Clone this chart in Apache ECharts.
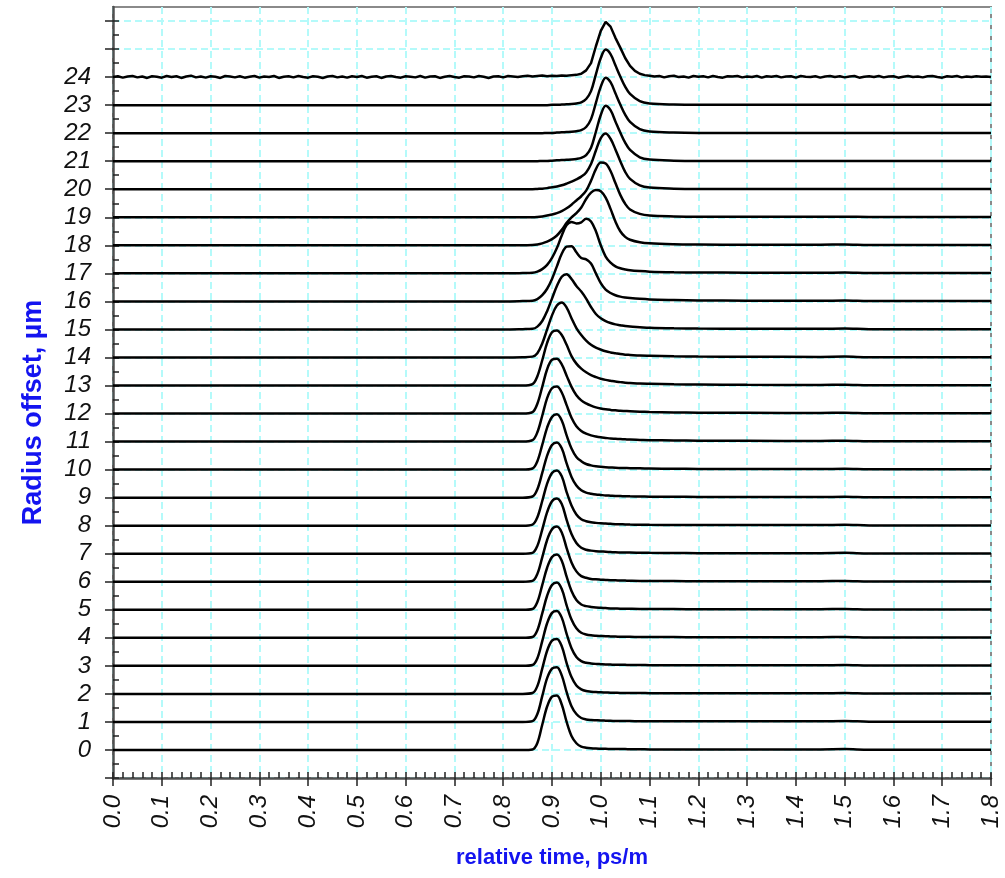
<!DOCTYPE html>
<html>
<head>
<meta charset="utf-8">
<script src="https://cdn.jsdelivr.net/npm/echarts@6/dist/echarts.min.js"></script>
<style>
  html, body { margin: 0; padding: 0; background: #fff; }
  #dmdChart { width: 1005px; height: 878px; }
</style>
</head>
<body>
<div id="dmdChart"></div>
<script>
// relative time (ps/m) sample points shared by traces 0..23
const times = [0, 0.80, 0.84, 0.86, 0.87, 0.88, 0.89, 0.90, 0.91, 0.92, 0.93, 0.94, 0.95, 0.96, 0.97,
  0.98, 0.99, 1.00, 1.01, 1.02, 1.03, 1.04, 1.05, 1.06, 1.08, 1.10, 1.15, 1.20, 1.30, 1.45, 1.50, 1.55, 1.80];

// pulse height above each trace's baseline (baseline = radius offset)
const pulses = [
  [0,0,0, 0.02,0.25,0.9,1.55,1.9,1.94,1.62,1.0,0.5,0.24,0.12,0.08,0.06,0.05,0.045,0.04,0.035,0.03,0.03,0.03,0.025,0.025,0.02, 0.02,0.02,0.02,0.02,0.03,0.01,0.01],
  [0,0,0, 0.03,0.28,0.92,1.56,1.9,1.95,1.66,1.06,0.56,0.28,0.14,0.09,0.07,0.06,0.05,0.045,0.04,0.035,0.03,0.03,0.03,0.025,0.025, 0.02,0.02,0.02,0.02,0.03,0.01,0.01],
  [0,0,0, 0.03,0.28,0.9,1.54,1.9,1.96,1.7,1.1,0.6,0.3,0.16,0.1,0.08,0.065,0.055,0.05,0.045,0.04,0.035,0.035,0.03,0.03,0.025, 0.02,0.02,0.02,0.02,0.03,0.01,0.01],
  [0,0,0, 0.03,0.27,0.88,1.52,1.89,1.96,1.72,1.14,0.63,0.32,0.17,0.11,0.085,0.07,0.06,0.05,0.045,0.04,0.04,0.035,0.03,0.03,0.025, 0.02,0.02,0.02,0.02,0.03,0.01,0.01],
  [0,0,0, 0.03,0.27,0.87,1.5,1.88,1.97,1.74,1.16,0.65,0.34,0.18,0.12,0.09,0.075,0.065,0.055,0.05,0.045,0.04,0.035,0.035,0.03,0.03, 0.025,0.02,0.02,0.02,0.03,0.01,0.01],
  [0,0,0, 0.03,0.28,0.88,1.5,1.88,1.97,1.75,1.18,0.67,0.35,0.19,0.13,0.1,0.08,0.07,0.06,0.05,0.045,0.04,0.04,0.035,0.03,0.03, 0.025,0.02,0.02,0.02,0.03,0.01,0.01],
  [0,0,0, 0.03,0.28,0.87,1.49,1.87,1.97,1.76,1.2,0.69,0.37,0.2,0.14,0.1,0.085,0.075,0.065,0.055,0.05,0.045,0.04,0.035,0.03,0.03, 0.025,0.02,0.02,0.02,0.03,0.01,0.01],
  [0,0,0, 0.03,0.28,0.86,1.48,1.87,1.97,1.77,1.21,0.7,0.38,0.21,0.14,0.11,0.09,0.08,0.07,0.06,0.05,0.045,0.04,0.04,0.035,0.03, 0.025,0.02,0.02,0.02,0.03,0.01,0.01],
  [0,0,0, 0.04,0.3,0.88,1.5,1.88,1.97,1.76,1.2,0.72,0.4,0.23,0.16,0.12,0.1,0.085,0.075,0.065,0.055,0.05,0.045,0.04,0.035,0.03, 0.025,0.02,0.02,0.02,0.03,0.01,0.01],
  [0,0,0, 0.04,0.3,0.88,1.5,1.88,1.97,1.76,1.22,0.74,0.43,0.26,0.18,0.14,0.11,0.095,0.08,0.07,0.06,0.055,0.05,0.045,0.04,0.035, 0.03,0.025,0.02,0.02,0.03,0.01,0.01],
  [0,0,0, 0.04,0.3,0.88,1.5,1.88,1.97,1.75,1.22,0.75,0.45,0.3,0.2,0.15,0.12,0.1,0.085,0.075,0.065,0.06,0.055,0.05,0.045,0.04, 0.03,0.025,0.02,0.02,0.03,0.01,0.01],
  [0,0,0, 0.05,0.33,0.92,1.55,1.9,1.96,1.75,1.3,0.85,0.55,0.38,0.28,0.22,0.18,0.15,0.13,0.11,0.1,0.09,0.08,0.07,0.06,0.05, 0.04,0.03,0.025,0.02,0.03,0.01,0.01],
  [0,0,0, 0.05,0.35,0.95,1.58,1.92,1.95,1.75,1.35,0.95,0.65,0.47,0.36,0.28,0.22,0.18,0.15,0.13,0.115,0.1,0.09,0.08,0.065,0.055, 0.04,0.03,0.025,0.02,0.03,0.01,0.01],
  [0,0,0, 0.05,0.33,0.9,1.52,1.9,1.96,1.8,1.45,1.05,0.78,0.6,0.47,0.37,0.3,0.24,0.2,0.17,0.14,0.12,0.1,0.09,0.07,0.06, 0.04,0.035,0.025,0.02,0.03,0.01,0.01],
  [0,0,0.01, 0.03,0.15,0.5,1.0,1.5,1.85,1.96,1.78,1.4,1.05,0.8,0.6,0.45,0.35,0.28,0.22,0.18,0.15,0.12,0.1,0.09,0.07,0.06, 0.04,0.03,0.025,0.02,0.03,0.01,0.01],
  [0,0,0.01, 0.02,0.1,0.3,0.65,1.1,1.55,1.88,1.97,1.8,1.55,1.35,1.1,0.8,0.55,0.4,0.3,0.23,0.18,0.15,0.12,0.1,0.08,0.06, 0.04,0.03,0.025,0.02,0.03,0.01,0.01],
  [0,0,0.01, 0.02,0.08,0.22,0.45,0.8,1.25,1.7,1.95,1.97,1.75,1.55,1.5,1.35,1.0,0.65,0.42,0.3,0.22,0.17,0.14,0.12,0.09,0.07, 0.05,0.035,0.025,0.02,0.03,0.01,0.01],
  [0,0,0.01, 0.02,0.06,0.15,0.3,0.55,0.9,1.35,1.72,1.83,1.78,1.82,1.95,1.85,1.5,1.0,0.6,0.38,0.25,0.18,0.14,0.11,0.08,0.06, 0.04,0.03,0.025,0.02,0.03,0.01,0.01],
  [0,0,0, 0.01,0.03,0.07,0.13,0.22,0.35,0.55,0.8,1.0,1.15,1.35,1.65,1.88,1.97,1.93,1.7,1.3,0.85,0.5,0.3,0.2,0.11,0.07, 0.04,0.03,0.02,0.02,0.03,0.01,0.01],
  [0,0,0, 0,0.01,0.03,0.06,0.1,0.15,0.22,0.32,0.45,0.6,0.75,0.95,1.3,1.72,1.95,1.92,1.65,1.22,0.8,0.48,0.28,0.12,0.06, 0.03,0.02,0.02,0.02,0.02,0.01,0.01],
  [0,0,0, 0,0.01,0.02,0.04,0.07,0.1,0.14,0.2,0.27,0.35,0.45,0.6,0.9,1.38,1.82,1.99,1.8,1.42,1.0,0.62,0.37,0.14,0.06, 0.02,0.01,0.01,0.01,0.01,0.01,0.01],
  [0,0,0, 0,0,0.01,0.01,0.02,0.03,0.04,0.05,0.06,0.08,0.12,0.22,0.48,1.05,1.65,1.98,1.82,1.42,1.02,0.66,0.4,0.14,0.06, 0.02,0.01,0.01,0.01,0.01,0.01,0.01],
  [0,0,0, 0,0,0,0.01,0.01,0.02,0.03,0.04,0.05,0.07,0.11,0.22,0.5,1.08,1.66,1.98,1.82,1.42,1.02,0.66,0.4,0.14,0.06, 0.02,0.01,0.01,0.01,0.01,0.01,0.01],
  [0,0,0, 0,0,0,0,0.01,0.01,0.02,0.03,0.04,0.06,0.1,0.22,0.5,1.1,1.68,1.98,1.82,1.42,1.02,0.66,0.4,0.14,0.06, 0.02,0.01,0.01,0.01,0.01,0.01,0.01]
];

// outermost trace (24 µm) is noisy, so it has its own dense sampling
const noisyTimes = [
  0.00, 0.01, 0.02, 0.03, 0.04, 0.05, 0.06, 0.07, 0.08, 0.09, 0.10, 0.11, 0.12, 0.13, 0.14, 0.15, 0.16, 0.17, 0.18, 0.19,
  0.20, 0.21, 0.22, 0.23, 0.24, 0.25, 0.26, 0.27, 0.28, 0.29, 0.30, 0.31, 0.32, 0.33, 0.34, 0.35, 0.36, 0.37, 0.38, 0.39,
  0.40, 0.41, 0.42, 0.43, 0.44, 0.45, 0.46, 0.47, 0.48, 0.49, 0.50, 0.51, 0.52, 0.53, 0.54, 0.55, 0.56, 0.57, 0.58, 0.59,
  0.60, 0.61, 0.62, 0.63, 0.64, 0.65, 0.66, 0.67, 0.68, 0.69, 0.70, 0.71, 0.72, 0.73, 0.74, 0.75, 0.76, 0.77, 0.78, 0.79,
  0.80, 0.81, 0.82, 0.83, 0.84, 0.85, 0.86, 0.87, 0.88, 0.89, 0.90, 0.91, 0.92, 0.93, 0.94,
  0.95, 0.96, 0.97, 0.98, 0.99, 1.00, 1.01, 1.02, 1.03, 1.04, 1.05, 1.06, 1.07, 1.08, 1.09,
  1.10, 1.11, 1.12, 1.13, 1.14, 1.15, 1.16, 1.17, 1.18, 1.19, 1.20, 1.21, 1.22, 1.23, 1.24, 1.25, 1.26, 1.27, 1.28, 1.29,
  1.30, 1.31, 1.32, 1.33, 1.34, 1.35, 1.36, 1.37, 1.38, 1.39, 1.40, 1.41, 1.42, 1.43, 1.44, 1.45, 1.46, 1.47, 1.48, 1.49,
  1.50, 1.51, 1.52, 1.53, 1.54, 1.55, 1.56, 1.57, 1.58, 1.59, 1.60, 1.61, 1.62, 1.63, 1.64, 1.65, 1.66, 1.67, 1.68, 1.69,
  1.70, 1.71, 1.72, 1.73, 1.74, 1.75, 1.76, 1.77, 1.78, 1.79, 1.80];
const noisyPulse = [
  0.00, 0.03, -0.02, 0.02, 0.04, -0.01, 0.02, -0.03, 0.03, 0.01, -0.02, 0.04, 0.00, 0.03, -0.03, 0.02, 0.05, -0.01, 0.02, -0.02,
  0.03, 0.01, -0.03, 0.04, 0.02, -0.01, 0.03, -0.02, 0.01, 0.04, -0.02, 0.02, 0.00, 0.04, -0.03, 0.01, 0.03, -0.01, 0.04, 0.00,
  -0.02, 0.03, 0.01, -0.03, 0.02, 0.04, -0.01, 0.02, -0.02, 0.03, 0.00, 0.04, -0.02, 0.01, 0.03, -0.03, 0.02, 0.04, 0.00, -0.02,
  0.03, 0.01, -0.01, 0.04, -0.02, 0.02, 0.03, -0.03, 0.01, 0.04, 0.00, -0.02, 0.03, 0.02, -0.01, 0.04, 0.01, -0.03, 0.02, 0.03,
  -0.01, 0.04, 0.02, 0.00, 0.03, 0.05, 0.02, 0.04, 0.06, 0.03, 0.05, 0.04, 0.06, 0.05, 0.07,
  0.08, 0.12, 0.24, 0.5, 1.1, 1.65, 1.97, 1.8, 1.4, 1.05, 0.68, 0.4, 0.22, 0.12, 0.07,
  0.05, 0.02, 0.04, -0.01, 0.03, 0.05, 0.00, 0.02, -0.02, 0.04, 0.01, 0.03, -0.01, 0.04, 0.00, -0.02, 0.03, 0.02, 0.04, -0.01,
  0.02, 0.00, 0.04, -0.02, 0.03, 0.01, 0.04, -0.01, 0.02, 0.03, -0.02, 0.04, 0.01, 0.00, 0.03, -0.02, 0.02, 0.04, 0.00, 0.03,
  -0.01, 0.02, 0.04, -0.02, 0.01, 0.03, 0.00, 0.04, -0.01, 0.02, 0.03, -0.02, 0.01, 0.04, 0.00, 0.02, -0.01, 0.03, 0.04, 0.00,
  -0.02, 0.03, 0.01, 0.04, -0.01, 0.02, 0.00, 0.03, 0.01, 0.02, 0.00];

const offsetLabels = [0, 1, 2, 3, 4, 5, 6, 7, 8, 9, 10, 11, 12, 13, 14, 15, 16, 17, 18, 19, 20, 21, 22, 23, 24];

const gridLine = { show: true, lineStyle: { color: "#b4fafa", width: 2, type: [7, 4] } };
const labelFont = { fontFamily: "Liberation Sans, Arial, sans-serif", fontStyle: "italic", fontSize: 24, color: "#111" };
const nameFont = { fontFamily: "Liberation Sans, Arial, sans-serif", fontWeight: "bold", color: "#1414f0" };

const majorYTicks = [];
const minorYTicks = [];
for (let v = -1; v <= 26; v++) majorYTicks.push(v);
for (let v = -2; v <= 52; v++) minorYTicks.push(v / 2);
const minorXTicks = [];
for (let i = 0; i <= 90; i++) minorXTicks.push(Math.round(i * 2) / 100);

const series = pulses.map((row, k) => ({
  type: "line",
  data: times.map((t, i) => [t, k + row[i]]),
  showSymbol: false,
  smooth: 0.35,
  lineStyle: { color: "#000", width: 2.5 },
}));
series.push({
  type: "line",
  data: noisyTimes.map((t, i) => [t, 24 + noisyPulse[i]]),
  showSymbol: false,
  smooth: false,
  lineStyle: { color: "#000", width: 2.5 },
});

const dmdChart = echarts.init(document.getElementById("dmdChart"));
dmdChart.setOption({
  animation: false,
  backgroundColor: "#fff",
  grid: {
    left: 113,
    right: 14,
    top: 7,
    bottom: 100,
    show: true,
    borderColor: "#8a8a8a",
    borderWidth: 2,
  },
  xAxis: [
    {
      type: "value",
      min: 0,
      max: 1.8,
      interval: 0.1,
      name: "relative time, ps/m",
      nameLocation: "middle",
      nameGap: 69,
      nameTextStyle: Object.assign({ fontSize: 22 }, nameFont),
      axisLine: { show: true, onZero: false, lineStyle: { color: "#505050", width: 2.5 } },
      axisTick: { show: true, inside: false, length: 8, lineStyle: { color: "#222", width: 1.5 } },
      axisLabel: Object.assign({ rotate: 90, margin: 17, formatter: (v) => v.toFixed(1) }, labelFont),
      splitLine: gridLine,
    },
    {
      type: "value",
      min: 0,
      max: 1.8,
      position: "bottom",
      axisLine: { show: false, onZero: false },
      axisTick: { show: true, inside: true, length: 6, customValues: minorXTicks, lineStyle: { color: "#222", width: 1.5 } },
      axisLabel: { show: false },
      splitLine: { show: false },
    },
  ],
  yAxis: [
    {
      type: "value",
      min: -1,
      max: 26.5,
      interval: 1,
      name: "Radius offset, µm",
      nameLocation: "middle",
      nameGap: 66,
      nameTextStyle: Object.assign({ fontSize: 27, padding: [0, 40, 0, 0] }, nameFont),
      axisLine: { show: true, onZero: false, lineStyle: { color: "#505050", width: 2.5 } },
      axisTick: { show: true, inside: false, length: 8, customValues: majorYTicks, lineStyle: { color: "#222", width: 1.5 } },
      axisLabel: Object.assign({ margin: 22, customValues: offsetLabels }, labelFont),
      splitLine: gridLine,
    },
    {
      type: "value",
      min: -1,
      max: 26.5,
      position: "left",
      axisLine: { show: false, onZero: false },
      axisTick: { show: true, inside: true, length: 6, customValues: minorYTicks, lineStyle: { color: "#222", width: 1.5 } },
      axisLabel: { show: false },
      splitLine: { show: false },
    },
  ],
  series: series,
});
window.addEventListener("resize", () => {
  dmdChart.resize();
});
</script>
</body>
</html>
